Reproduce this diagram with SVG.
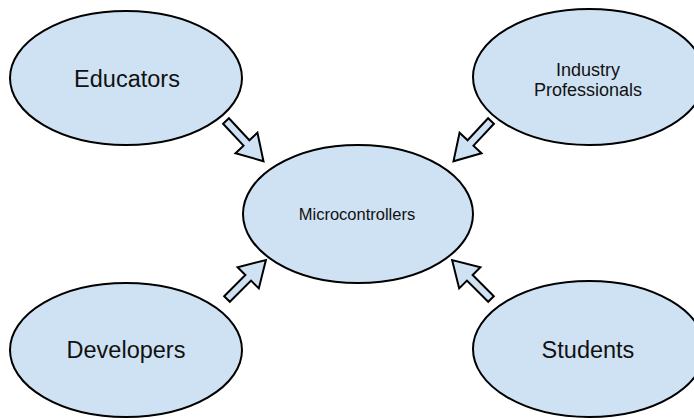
<svg xmlns="http://www.w3.org/2000/svg" xmlns:xlink="http://www.w3.org/1999/xlink" width="694" height="418" viewBox="0 0 694 418">
<style>
.node{fill:#cfe2f3;stroke:#000;stroke-width:2}
.arr{fill:#cfe2f3;stroke:#000;stroke-width:2;stroke-linejoin:miter}
text{font-family:"Liberation Sans",Arial,sans-serif;fill:#111;text-anchor:middle}
.big{font-size:23.5px}
.small{font-size:18px}
.mid{font-size:16.5px}
</style>
<defs>
<path id="blk" d="M0,-4 L30,-4 L30,-15 L55,0 L30,15 L30,4 L0,4 Z"/>
</defs>
<rect width="694" height="418" fill="#fff"/>
<g id="connectors">
<use xlink:href="#blk" class="arr" transform="translate(226,121) rotate(47)"/>
<use xlink:href="#blk" class="arr" transform="translate(491,121) rotate(133)"/>
<use xlink:href="#blk" class="arr" transform="translate(227,299) rotate(-45)"/>
<use xlink:href="#blk" class="arr" transform="translate(491,299) rotate(-135)"/>
</g>
<g id="educators">
<ellipse class="node" cx="126" cy="78" rx="116" ry="67"/>
<text class="big" x="127" y="87">Educators</text>
</g>
<g id="industry">
<ellipse class="node" cx="589" cy="77" rx="116" ry="68"/>
<text class="small" x="588" y="76">Industry</text>
<text class="small" x="588" y="96">Professionals</text>
</g>
<g id="microcontrollers">
<ellipse class="node" cx="358" cy="214" rx="115" ry="69"/>
<text class="mid" x="357" y="220">Microcontrollers</text>
</g>
<g id="developers">
<ellipse class="node" cx="126" cy="350" rx="116" ry="67"/>
<text class="big" x="126" y="358">Developers</text>
</g>
<g id="students">
<ellipse class="node" cx="589" cy="349" rx="116" ry="68"/>
<text class="big" x="588" y="358">Students</text>
</g>
</svg>
